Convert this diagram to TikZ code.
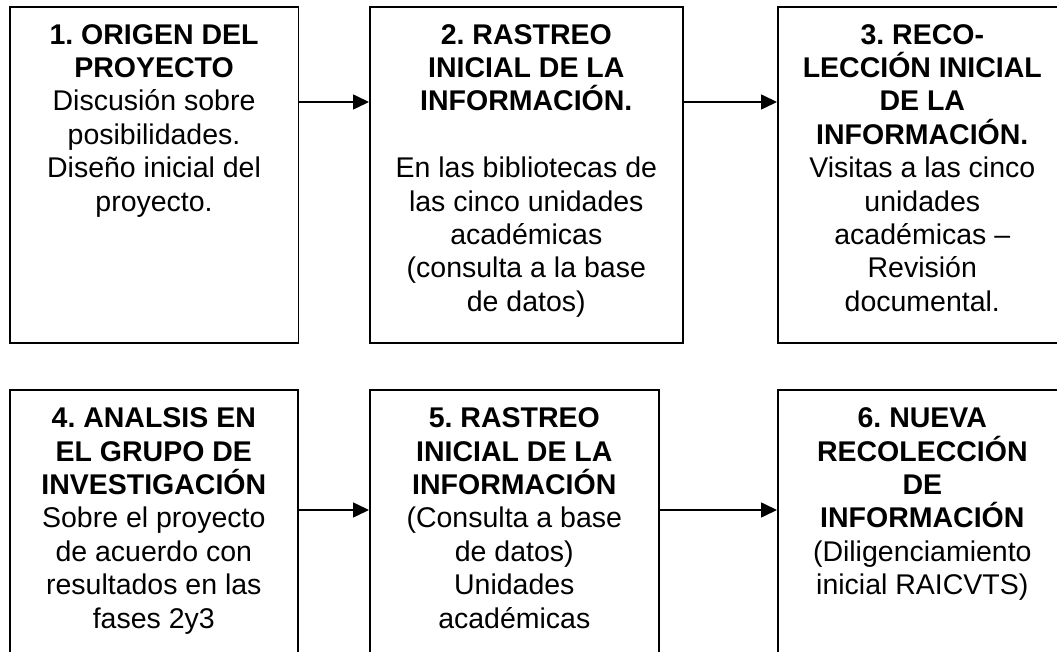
\documentclass[tikz,border=0pt]{standalone}
\usepackage{fontspec}
\setmainfont{Liberation Sans}
\usetikzlibrary{arrows.meta,calc}
\frenchspacing
\newcommand\fstrut{\rule{0pt}{30pt}}
\begin{document}
\begin{tikzpicture}[x=1pt,y=1pt,
  stagebox/.style={draw=black,line width=1.6pt,fill=none,inner sep=0pt,anchor=north west},
  stagetext/.style={anchor=north,inner sep=0pt,align=center,
     font=\fontsize{28.5}{33.4}\selectfont},
  flowarrow/.style={line width=1.6pt,-{Triangle[length=16pt,width=15pt]}}]
\useasboundingbox (0,0) rectangle (1057,651);
\clip (0,0) rectangle (1057,651);
% top row
\node[stagebox,minimum width=288.5pt,minimum height=336pt] (b1) at (9,645) {};
\node[stagebox,minimum width=313pt,minimum height=336pt] (b2) at (369,645) {};
\node[stagebox,minimum width=289pt,minimum height=336pt] (b3) at (777,645) {};
% bottom row
\node[stagebox,minimum width=288pt,minimum height=320pt] (b4) at (9,261.5) {};
\node[stagebox,minimum width=289pt,minimum height=320pt] (b5) at (369,261.5) {};
\node[stagebox,minimum width=289pt,minimum height=320pt] (b6) at (777,261.5) {};
% texts
\node[stagetext] (t1) at ([yshift=-8pt]b1.north) {\fstrut\textbf{1. ORIGEN DEL}\\\textbf{PROYECTO}\\Discusión sobre\\posibilidades.\\Diseño inicial del\\proyecto.};
\node[stagetext] (t2) at ([yshift=-8pt]b2.north) {\fstrut\textbf{2. RASTREO}\\\textbf{INICIAL DE LA}\\\textbf{INFORMACIÓN.}\\[33.4pt]En las bibliotecas de\\las cinco unidades\\académicas\\(consulta a la base\\de datos)};
\node[stagetext] (t3) at ([yshift=-8pt]b3.north) {\fstrut\textbf{3. RECO-}\\\textbf{LECCIÓN INICIAL}\\\textbf{DE LA}\\\textbf{INFORMACIÓN.}\\Visitas a las cinco\\unidades\\académicas –\\Revisión\\documental.};
\node[stagetext] (t4) at ([yshift=-8pt]b4.north) {\fstrut\textbf{4. ANALSIS EN}\\\textbf{EL GRUPO DE}\\\textbf{INVESTIGACIÓN}\\Sobre el proyecto\\de acuerdo con\\resultados en las\\fases 2y3};
\node[stagetext] (t5) at ([yshift=-8pt]b5.north) {\fstrut\textbf{5. RASTREO}\\\textbf{INICIAL DE LA}\\\textbf{INFORMACIÓN}\\(Consulta a base\\de datos)\\Unidades\\académicas};
\node[stagetext] (t6) at ([yshift=-8pt]b6.north) {\fstrut\textbf{6. NUEVA}\\\textbf{RECOLECCIÓN}\\\textbf{DE}\\\textbf{INFORMACIÓN}\\(Diligenciamiento\\inicial RAICVTS)};
% arrows
\coordinate (ra) at (0,549);
\coordinate (rb) at (0,141);
\draw[flowarrow] (b1.east |- ra) -- (b2.west |- ra);
\draw[flowarrow] (b2.east |- ra) -- (b3.west |- ra);
\draw[flowarrow] (b4.east |- rb) -- (b5.west |- rb);
\draw[flowarrow] (b5.east |- rb) -- (b6.west |- rb);
\end{tikzpicture}
\end{document}
